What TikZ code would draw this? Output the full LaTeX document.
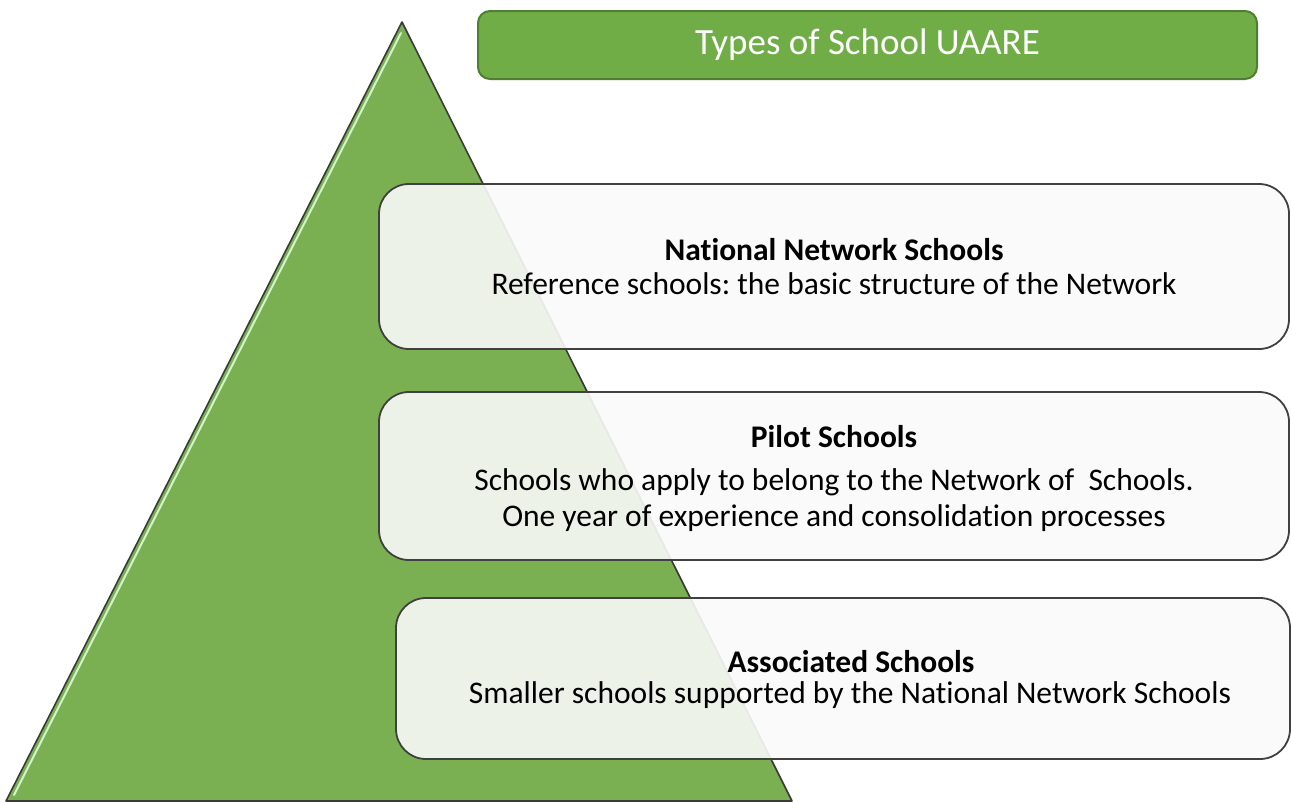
\documentclass[tikz,border=0pt]{standalone}
\usepackage{fontspec}
\setmainfont{Carlito}[Ligatures=NoCommon]
\frenchspacing
\definecolor{pyrgreen}{HTML}{7AB052}
\definecolor{pyredge}{HTML}{3A3A3A}
\definecolor{titlegreen}{HTML}{70AD47}
\definecolor{titleedge}{HTML}{507E32}
\definecolor{tierfill}{HTML}{FAFAFA}
\definecolor{tieredge}{HTML}{404040}
\begin{document}
\begin{tikzpicture}[x=1pt,y=-1pt,
  pyramid/.style={draw=pyredge, line width=1.6pt, fill=pyrgreen, line join=round},
  bevel/.style={draw=green!12!white, line width=2pt, opacity=0.85, line cap=round},
  titlebox/.style={draw=titleedge, line width=2pt, fill=titlegreen, rounded corners=12pt,
    minimum width=779pt, minimum height=68pt, text=white, font=\fontsize{37}{44}\selectfont},
  tier/.style={draw=tieredge, line width=1.8pt, fill=tierfill, fill opacity=0.9,
    rounded corners=30pt, inner sep=0pt},
  head/.style={font=\bfseries\fontsize{31.5}{36}\selectfont, inner sep=0pt},
  body/.style={font=\fontsize{31.5}{36}\selectfont, align=center, inner sep=0pt}]
\useasboundingbox (0,0) rectangle (1292,803);

% pyramid
\coordinate (apex) at (402,22);
\coordinate (bl) at (6,801);
\coordinate (br) at (792,801);
\draw[pyramid] (apex) -- (br) -- (bl) -- cycle;
\coordinate (hl1) at (401,33);
\coordinate (hl2) at (14,795);
\draw[bevel] (hl1) -- (hl2);

% title
\node[titlebox] (title) at (867.5,45) {Types of School UAARE};

% tiers
\node[tier, minimum width=910pt, minimum height=165pt] (nns) at (834,266.5) {};
\node[tier, minimum width=910pt, minimum height=168pt] (pilot) at (834,476) {};
\node[tier, minimum width=894pt, minimum height=161pt] (assoc) at (843,678.5) {};

% tier texts
\node[head] (nnsh) at (834,250) {National Network Schools};
\node[body] (nnsb) at (834,284) {Reference schools: the basic structure of the Network};
\node[head] (piloth) at (834,437) {Pilot Schools};
\node[body] (pilotb) at (834,500) {Schools who apply to belong to the Network of\ \ Schools.\\One year of experience and consolidation processes};
\node[head] (assoch) at (851,662) {Associated Schools};
\node[body] (assocb) at (850,695) {Smaller schools supported by the National Network Schools};
\end{tikzpicture}
\end{document}
